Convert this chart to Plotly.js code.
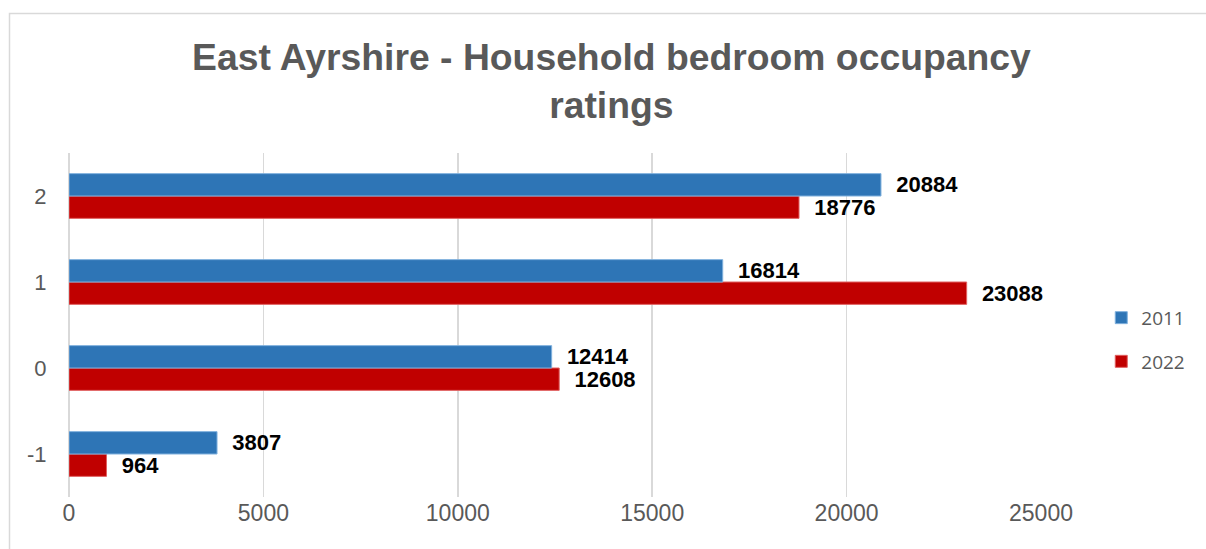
<!DOCTYPE html>
<html>
<head>
<meta charset="utf-8">
<script src="https://cdn.plot.ly/plotly-3.0.1.min.js"></script>
<style>html,body{margin:0;padding:0;background:#fff}#chart{width:1206px;height:549px}</style>
</head>
<body>
<div id="chart"></div>
<script>
var categories = ['-1', '0', '1', '2'];
var values2011 = [3807, 12414, 16814, 20884];
var values2022 = [964, 12608, 23088, 18776];
var seriesNames = ['2011', '2022'];
var xTicks = [0, 5000, 10000, 15000, 20000, 25000];

var labelFont = {family: 'Liberation Sans, Arial, sans-serif', size: 22, color: '#000000', weight: 'bold'};

var trace2022 = {
  type: 'bar', orientation: 'h', name: seriesNames[1],
  y: categories, x: values2022,
  marker: {color: '#C00000', line: {color: '#E06060', width: 1}},
  text: values2022.map(String), texttemplate: '  %{text}', textposition: 'outside',
  constraintext: 'none',
  textfont: labelFont, cliponaxis: false, legendgroup: 'b', legendrank: 2, hoverinfo: 'none'
};
var trace2011 = {
  type: 'bar', orientation: 'h', name: seriesNames[0],
  y: categories, x: values2011,
  marker: {color: '#2E75B6', line: {color: '#7FB0DD', width: 1}},
  text: values2011.map(String), texttemplate: '  %{text}', textposition: 'outside',
  constraintext: 'none',
  textfont: labelFont, cliponaxis: false, legendgroup: 'a', legendrank: 1, hoverinfo: 'none'
};

var layout = {
  width: 1206, height: 549,
  margin: {l: 69, r: 165, t: 153, b: 52},
  paper_bgcolor: '#ffffff', plot_bgcolor: '#ffffff',
  barmode: 'group', bargap: 0.48, bargroupgap: 0,
  font: {family: 'Liberation Sans, Arial, sans-serif', color: '#595959'},
  title: {
    text: 'East Ayrshire - Household bedroom occupancy<br>ratings',
    font: {family: 'Liberation Sans, Arial, sans-serif', size: 37.3, color: '#595959', weight: 'bold'},
    x: 0.558, xanchor: 'center', xref: 'paper',
    y: 1 - 70 / 549, yanchor: 'top', yref: 'container'
  },
  xaxis: {
    range: [0, 25000], tickvals: xTicks, ticktext: xTicks.map(String),
    showgrid: true, gridcolor: '#D9D9D9', gridwidth: 1.5,
    zeroline: true, zerolinecolor: '#D9D9D9', zerolinewidth: 1.5,
    showline: false, ticks: '', ticklen: 0,
    tickfont: {size: 23, color: '#595959'}, fixedrange: true
  },
  yaxis: {
    type: 'category', categoryorder: 'array', categoryarray: categories,
    showgrid: false, zeroline: false, showline: false, ticks: 'outside', ticklen: 17, tickcolor: 'rgba(0,0,0,0)',
    tickfont: {size: 22, color: '#595959'}, fixedrange: true
  },
  legend: {
    x: 1.062, xanchor: 'left', y: 0.457, yanchor: 'middle',
    traceorder: 'grouped', tracegroupgap: 16,
    font: {family: 'Open Sans, sans-serif', size: 19, color: '#595959'},
    itemwidth: 30, bgcolor: 'rgba(0,0,0,0)'
  },
  showlegend: true,
  shapes: [{
    type: 'rect', xref: 'paper', yref: 'paper',
    x0: (9.5 - 69) / 972, x1: (1230 - 69) / 972,
    y0: (497 - 580) / 344, y1: (497 - 13.5) / 344,
    line: {color: '#D9D9D9', width: 1.5}, fillcolor: 'rgba(0,0,0,0)', layer: 'below'
  }]
};

Plotly.newPlot('chart', [trace2022, trace2011], layout, {displayModeBar: false, staticPlot: true});
</script>
</body>
</html>
